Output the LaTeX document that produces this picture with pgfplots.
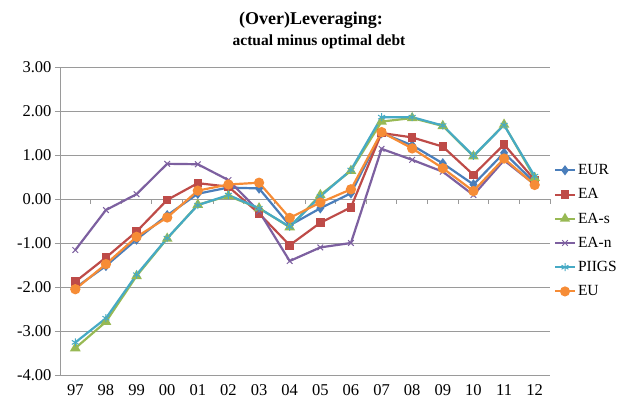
\documentclass[border=0pt]{standalone}
\usepackage{fontspec}
\setmainfont{Liberation Serif}
\usepackage{pgfplots}
\pgfplotsset{compat=1.18}

\definecolor{cEUR}{HTML}{4A7EBB}
\definecolor{cEA}{HTML}{BE4B48}
\definecolor{cEAs}{HTML}{98B954}
\definecolor{cEAn}{HTML}{7D60A0}
\definecolor{cPIIGS}{HTML}{46AAC5}
\definecolor{cEU}{HTML}{F68C36}
\definecolor{gridc}{HTML}{9A9A9A}

\begin{document}
\begin{tikzpicture}
\begin{axis}[
  at={(0pt,0pt)}, anchor=south west,
  scale only axis,
  width=490pt, height=308pt,
  xmin=-0.5, xmax=15.5,
  ymin=-4, ymax=3,
  xtick={0,...,15},
  xticklabels={97,98,99,00,01,02,03,04,05,06,07,08,09,10,11,12},
  ytick={-4,-3,-2,-1,0,1,2,3},
  yticklabels={-4.00,-3.00,-2.00,-1.00,0.00,1.00,2.00,3.00},
  axis x line*=bottom,
  x axis line style={draw=none,-},
  xtick style={draw=none},
  axis y line*=left,
  y axis line style={gridc,line width=0.8pt,-},
  ymajorgrids=true,
  grid style={gridc,line width=0.8pt},
  ytick style={gridc,line width=0.8pt},
  tick align=outside,
  major tick length=5pt,
  tick label style={font=\fontsize{16.5}{18}\selectfont},
  xticklabel style={yshift=-1pt},
  clip=false,
  every axis plot/.append style={line width=2.2pt},
  legend style={at={(1.0,0.69)}, anchor=north west, draw=none, fill=none,
    font=\fontsize{15.5}{17}\selectfont, row sep=8.5pt,
    inner sep=0pt, outer sep=0pt, xshift=4pt,
    cells={anchor=west}},
  legend image code/.code={\draw[mark repeat=2,mark phase=2,line width=2pt]
    plot coordinates {(0pt,0pt)(10pt,0pt)(20pt,0pt)};},
]
% x axis at zero with tick marks between categories
\draw[gridc,line width=0.8pt] (axis cs:-0.5,0) -- (axis cs:15.5,0);
\pgfplotsinvokeforeach{0,...,16}{
  \draw[gridc,line width=0.8pt] (axis cs:#1-0.5,0) -- ([yshift=-5pt]axis cs:#1-0.5,0);
}

\addplot[cEUR,mark=diamond*,mark size=3.5pt] coordinates {
(0,-2.02) (1,-1.52) (2,-0.92) (3,-0.37) (4,0.12) (5,0.26) (6,0.24) (7,-0.60)
(8,-0.21) (9,0.13) (10,1.50) (11,1.22) (12,0.81) (13,0.33) (14,1.05) (15,0.37)};
\addlegendentry{EUR}
\addplot[cEA,mark=square*,mark size=3.2pt] coordinates {
(0,-1.88) (1,-1.33) (2,-0.74) (3,-0.02) (4,0.36) (5,0.28) (6,-0.33) (7,-1.05)
(8,-0.54) (9,-0.19) (10,1.50) (11,1.40) (12,1.19) (13,0.55) (14,1.24) (15,0.43)};
\addlegendentry{EA}
\addplot[cEAs,mark=triangle*,mark size=4pt] coordinates {
(0,-3.39) (1,-2.79) (2,-1.75) (3,-0.90) (4,-0.13) (5,0.07) (6,-0.21) (7,-0.64)
(8,0.09) (9,0.64) (10,1.76) (11,1.84) (12,1.66) (13,0.97) (14,1.69) (15,0.48)};
\addlegendentry{EA-s}
\addplot[cEAn,mark=x,mark size=4pt,mark options={line width=1pt}] coordinates {
(0,-1.16) (1,-0.25) (2,0.11) (3,0.80) (4,0.79) (5,0.43) (6,-0.28) (7,-1.41)
(8,-1.10) (9,-1.00) (10,1.14) (11,0.89) (12,0.62) (13,0.09) (14,0.88) (15,0.33)};
\addlegendentry{EA-n}
\addplot[cPIIGS,mark=asterisk,mark size=4pt,mark options={line width=1pt}] coordinates {
(0,-3.26) (1,-2.71) (2,-1.72) (3,-0.89) (4,-0.14) (5,0.09) (6,-0.21) (7,-0.63)
(8,0.06) (9,0.66) (10,1.86) (11,1.86) (12,1.67) (13,0.98) (14,1.68) (15,0.52)};
\addlegendentry{PIIGS}
\addplot[cEU,mark=*,mark size=4pt] coordinates {
(0,-2.05) (1,-1.48) (2,-0.86) (3,-0.42) (4,0.19) (5,0.33) (6,0.37) (7,-0.43)
(8,-0.08) (9,0.22) (10,1.52) (11,1.15) (12,0.70) (13,0.18) (14,0.92) (15,0.32)};
\addlegendentry{EU}
\end{axis}
\node[font=\bfseries\fontsize{18}{20}\selectfont] at (251pt,355pt) {(Over)Leveraging:};
\node[font=\bfseries\fontsize{15.5}{17}\selectfont] at (259pt,333pt) {actual minus optimal debt};
\path[use as bounding box] (-60pt,-27pt) rectangle (567pt,375pt);
\end{tikzpicture}
\end{document}
